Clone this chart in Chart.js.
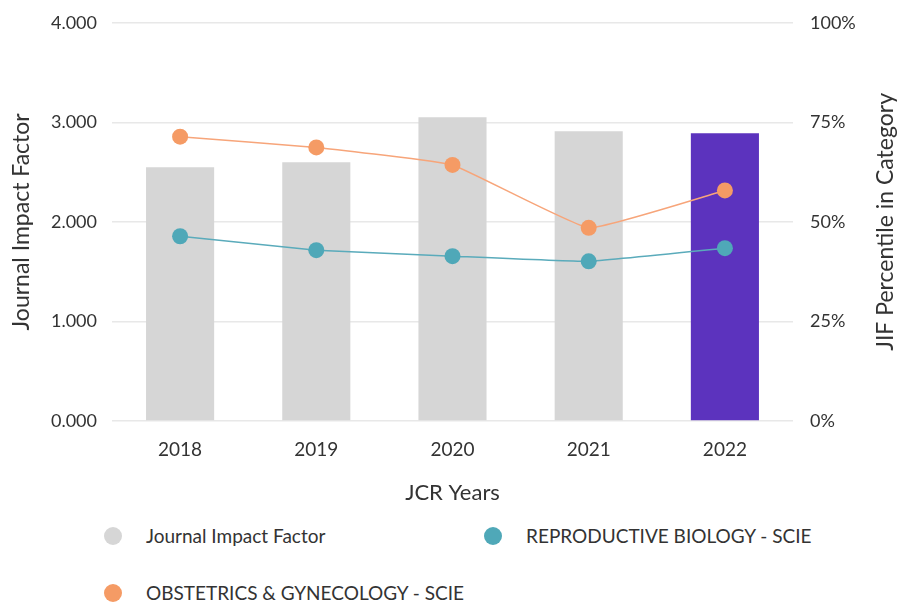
<!DOCTYPE html>
<html>
<head>
<meta charset="utf-8">
<script src="https://cdn.jsdelivr.net/npm/chart.js@4/dist/chart.umd.min.js"></script>
<style>
  body { margin: 0; background: #fff; font-family: Lato, "Open Sans", sans-serif; overflow: hidden; }
  #wrap { position: relative; width: 902px; height: 602px; overflow: hidden; }
  #chart-box { position: absolute; left: 0; top: -5px; width: 902px; height: 517px; }
  .legend-item { position: absolute; display: flex; align-items: center; font-size: 19px; color: #333; height: 24px; line-height: 24px; }
  .legend-item .dot { width: 18px; height: 18px; border-radius: 50%; margin-right: 24px; }
</style>
</head>
<body>
<div id="wrap">
  <div id="chart-box"><canvas id="jif-chart"></canvas></div>
  <div id="legend"></div>
</div>
<script>
// Chart data
const years = ['2018', '2019', '2020', '2021', '2022'];
const impactFactor = [2.55, 2.60, 3.05, 2.91, 2.89];
const reproBiology = [46.4, 42.9, 41.4, 40.1, 43.4];
const obstetrics = [71.4, 68.7, 64.3, 48.5, 57.9];
const leftTicks = [0, 1, 2, 3, 4];
const rightTicks = [0, 25, 50, 75, 100];

const barColors = years.map((y, i) => i === years.length - 1 ? '#5c33be' : '#d6d6d6');

const FONT = 'Lato, "Open Sans", sans-serif';
const tickFont = { family: FONT, size: 18 };
const titleFont = { family: FONT, size: 23 };

// Right axis title reads bottom-to-top in the reference, so draw it ourselves
const rightTitlePlugin = {
    id: 'rightTitle',
    afterDraw(chart) {
        const { ctx, chartArea } = chart;
        ctx.save();
        ctx.translate(886, (chartArea.top + chartArea.bottom) / 2);
        ctx.rotate(-Math.PI / 2);
        ctx.font = '23px ' + FONT;
        ctx.fillStyle = '#333';
        ctx.textAlign = 'center';
        ctx.textBaseline = 'middle';
        ctx.fillText('JIF Percentile in Category', 0, 0);
        ctx.restore();
    }
};

const ctx = document.getElementById('jif-chart').getContext('2d');
const chart = new Chart(ctx, {
    data: {
        labels: years,
        datasets: [
            {
                type: 'line',
                label: 'REPRODUCTIVE BIOLOGY - SCIE',
                data: reproBiology,
                yAxisID: 'yPct',
                borderColor: '#5aabbb',
                backgroundColor: '#4fa8b8',
                borderWidth: 1.5,
                pointRadius: 8,
                pointHoverRadius: 8,
                pointBorderWidth: 0,
                tension: 0.1,
                order: 1
            },
            {
                type: 'line',
                label: 'OBSTETRICS & GYNECOLOGY - SCIE',
                data: obstetrics,
                yAxisID: 'yPct',
                borderColor: '#f7a57a',
                backgroundColor: '#f59b65',
                borderWidth: 1.5,
                pointRadius: 8,
                pointHoverRadius: 8,
                pointBorderWidth: 0,
                tension: 0.1,
                order: 2
            },
            {
                type: 'bar',
                label: 'Journal Impact Factor',
                data: impactFactor,
                yAxisID: 'yJif',
                backgroundColor: barColors,
                legendColor: '#d6d6d6',
                categoryPercentage: 1.0,
                barPercentage: 0.5,
                order: 3
            }
        ]
    },
    options: {
        responsive: true,
        maintainAspectRatio: false,
        animation: false,
        layout: { padding: { top: 17, left: 0, right: 0, bottom: 0 } },
        scales: {
            x: {
                grid: { display: false },
                border: { display: false },
                ticks: { color: '#333', font: { family: FONT, size: 19 }, padding: 9 },
                title: { display: true, text: 'JCR Years', color: '#333', font: { family: FONT, size: 22 }, padding: { top: 4, bottom: 6 } },
                afterFit: scale => { scale.height = 91; }
            },
            yJif: {
                position: 'left',
                min: 0,
                max: 4,
                afterBuildTicks: axis => { axis.ticks = leftTicks.map(v => ({ value: v })); },
                ticks: { color: '#333', font: tickFont, padding: 15, callback: v => v.toFixed(3) },
                grid: { color: '#e8e8e8', lineWidth: 1.5, drawTicks: false },
                border: { display: false },
                title: { display: true, text: 'Journal Impact Factor', color: '#333', font: titleFont, padding: { top: 8, bottom: 4 } },
                afterFit: scale => { scale.width = 112; }
            },
            yPct: {
                position: 'right',
                min: 0,
                max: 100,
                afterBuildTicks: axis => { axis.ticks = rightTicks.map(v => ({ value: v })); },
                ticks: { color: '#333', font: tickFont, padding: 17, callback: v => v + '%' },
                grid: { display: false, drawTicks: false },
                border: { display: false },
                afterFit: scale => { scale.width = 109; }
            }
        },
        plugins: {
            legend: { display: false },
            tooltip: { enabled: false }
        }
    },
    plugins: [rightTitlePlugin]
});

// HTML legend in two columns
const legendOrder = [
    { idx: 2, left: 104, top: 524 },
    { idx: 0, left: 484, top: 524 },
    { idx: 1, left: 104, top: 581 }
];
const legendEl = document.getElementById('legend');
legendOrder.forEach(item => {
    const ds = chart.data.datasets[item.idx];
    const div = document.createElement('div');
    div.className = 'legend-item';
    div.style.left = item.left + 'px';
    div.style.top = item.top + 'px';
    div.innerHTML = '<span class="dot" style="background:' + (ds.legendColor || ds.backgroundColor) + '"></span>' + ds.label;
    legendEl.appendChild(div);
});
</script>
</body>
</html>
